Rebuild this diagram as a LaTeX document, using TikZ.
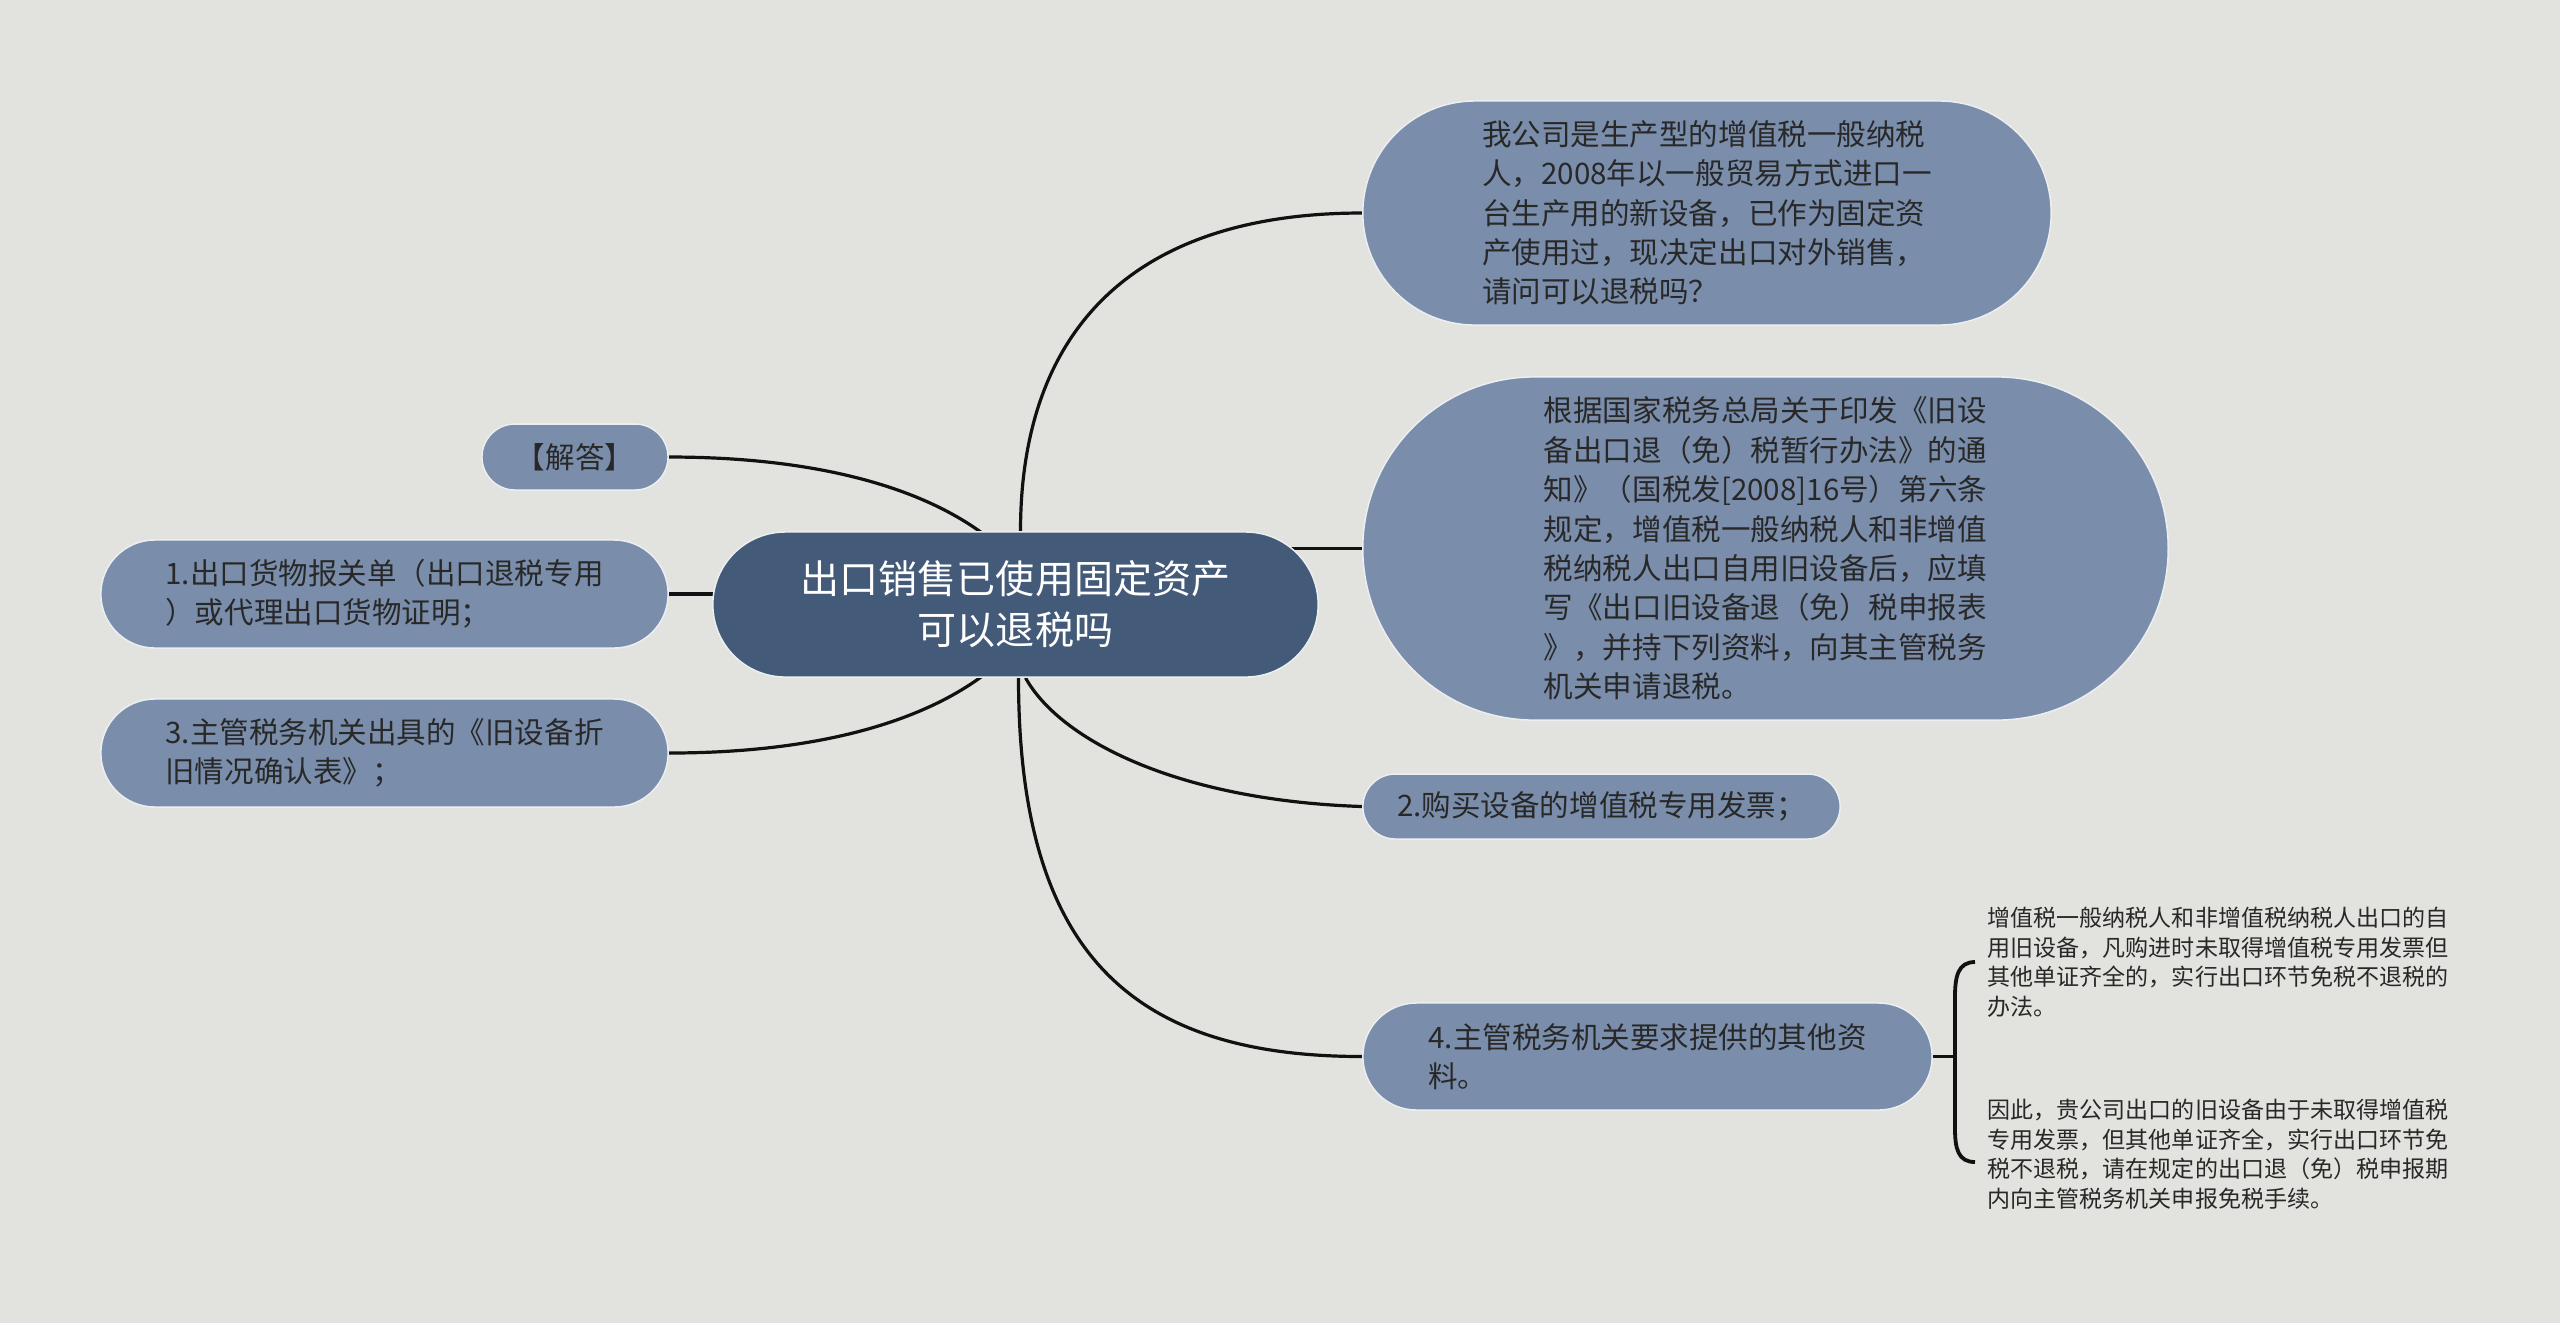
\documentclass[tikz,border=0pt]{standalone}
\usepackage{fontspec}
\setmainfont{Noto Sans CJK SC}
\usetikzlibrary{shapes.misc,calc,backgrounds}
\definecolor{bgc}{RGB}{226,226,222}
\definecolor{lightn}{RGB}{122,142,172}
\definecolor{darkn}{RGB}{67,90,120}
\definecolor{txt}{RGB}{40,40,40}
\definecolor{edgec}{RGB}{17,17,17}
\begin{document}
\begin{tikzpicture}[x=0.01cm,y=-0.01cm,
  pill/.style={rounded rectangle,inner sep=0pt,fill=lightn,draw={rgb,255:red,236;green,239;blue,242},line width=0.015cm,align=left,text=txt,font={\fontsize{8.4pt}{11.2pt}\selectfont}},
  root/.style={pill,fill=darkn,text=white,align=center,font={\fontsize{11.1pt}{14.5pt}\selectfont}},
  leaf/.style={inner sep=0pt,align=left,text=txt,anchor=west,font={\fontsize{6.55pt}{8.4pt}\selectfont}},
  conn/.style={draw=edgec,line width=0.032cm}]
\useasboundingbox (0,0) rectangle (2560,1323);

\node[root,minimum width=6.05cm,minimum height=1.45cm] (c) at (1015.5,604.5) {出口销售已使用固定资产\\可以退税吗};

\node[pill,minimum width=6.88cm,minimum height=2.24cm] (q) at (1707,213) {我公司是生产型的增值税一般纳税\\人，2008年以一般贸易方式进口一\\台生产用的新设备，已作为固定资\\产使用过，现决定出口对外销售，\\请问可以退税吗？};

\node[pill,minimum width=8.05cm,minimum height=3.43cm] (g) at (1765.5,548.5) {根据国家税务总局关于印发《旧设\\备出口退（免）税暂行办法》的通\\知》（国税发[2008]16号）第六条\\规定，增值税一般纳税人和非增值\\税纳税人出口自用旧设备后，应填\\写《出口旧设备退（免）税申报表\\》，并持下列资料，向其主管税务\\机关申请退税。};

\node[pill,minimum width=4.77cm,minimum height=0.65cm] (n2) at (1601.5,806.5) {2.购买设备的增值税专用发票；};

\node[pill,minimum width=5.69cm,minimum height=1.07cm] (n4) at (1647.5,1056.5) {4.主管税务机关要求提供的其他资\\料。};

\node[pill,minimum width=1.86cm,minimum height=0.66cm] (jd) at (575,457) {【解答】};

\node[pill,minimum width=5.67cm,minimum height=1.08cm] (n1) at (384.5,594) {1.出口货物报关单（出口退税专用\\）或代理出口货物证明；};

\node[pill,minimum width=5.67cm,minimum height=1.08cm] (n3) at (384.5,753) {3.主管税务机关出具的《旧设备折\\旧情况确认表》；};

\node[leaf] (l1) at (1987,962) {增值税一般纳税人和非增值税纳税人出口的自\\用旧设备，凡购进时未取得增值税专用发票但\\其他单证齐全的，实行出口环节免税不退税的\\办法。};

\node[leaf] (l2) at (1987,1154) {因此，贵公司出口的旧设备由于未取得增值税\\专用发票，但其他单证齐全，实行出口环节免\\税不退税，请在规定的出口退（免）税申报期\\内向主管税务机关申报免税手续。};

\coordinate (bk) at (1955,1056.5);

\begin{scope}[on background layer]
\fill[bgc] (0,0) rectangle (2560,1323);
\draw[conn] ($(c.north)+(5,0)$) .. controls +(0,-200) and ($(q.west)+(-230,0)$) .. (q.west);
\draw[conn] (c.center |- g.west) -- (g.west);
\draw[conn] ($(c.south)+(10,0)$) .. controls +(35,63) and ($(n2.west)+(-183,-6)$) .. (n2.west);
\draw[conn] ($(c.south)+(3,0)$) .. controls +(0,273) and ($(n4.west)+(-233,0)$) .. (n4.west);
\draw[conn] (jd.east) .. controls +(212,0) and ($(c.center)+(-15,-85)$) .. ($(c.center)+(25,-5)$);
\draw[conn] (n1.east) -- (n1.east -| c.center);
\draw[conn] (n3.east) .. controls +(212,0) and ($(c.center)+(-15,85)$) .. ($(c.center)+(25,5)$);
\end{scope}

\draw[conn] (n4.east) -- (bk);
\draw[conn,line width=0.038cm] ($(l1.west)+(-12,0)$) .. controls +(-17,0) and ($(bk)+(0,-80)$) .. ($(bk)+(0,-60)$) -- ($(bk)+(0,72)$) .. controls +(0,20) and ($(l2.west)+(-29,8)$) .. ($(l2.west)+(-12,8)$);
\end{tikzpicture}
\end{document}
